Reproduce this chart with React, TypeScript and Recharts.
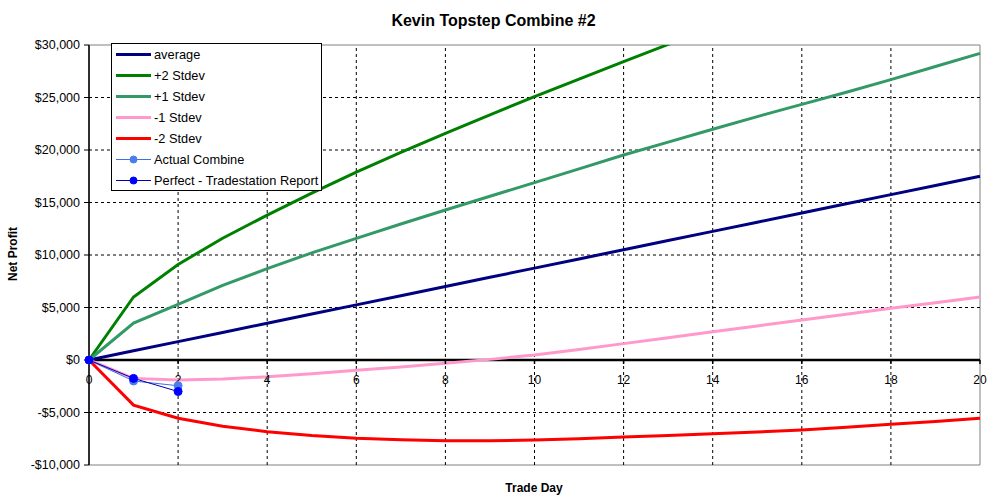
import { LineChart, Line, XAxis, YAxis, ReferenceLine, ReferenceArea, ReferenceDot } from 'recharts';

const days = [0, 1, 2, 3, 4, 5, 6, 7, 8, 9, 10, 11, 12, 13, 14, 15, 16, 17, 18, 19, 20];
const average = [0, 875, 1750, 2625, 3500, 4375, 5250, 6125, 7000, 7875, 8750, 9625, 10500, 11375, 12250, 13125, 14000, 14875, 15750, 16625, 17500];
const plus2 = [0, 6000, 9100, 11600, 13800, 15900, 17900, 19780, 21590, 23350, 25080, 26750, 28410, 30050, 31650, 33200, 34750, 36250, 37750, 39200, 40650];
const plus1 = [0, 3520, 5300, 7100, 8700, 10200, 11590, 12950, 14290, 15600, 16890, 18200, 19520, 20750, 21970, 23180, 24350, 25500, 26700, 27950, 29200];
const minus1 = [0, -1750, -1900, -1800, -1600, -1300, -980, -660, -320, 60, 480, 1010, 1560, 2120, 2680, 3240, 3800, 4360, 4920, 5460, 6000];
const minus2 = [0, -4300, -5550, -6300, -6830, -7200, -7450, -7600, -7680, -7690, -7620, -7500, -7330, -7180, -7020, -6850, -6670, -6400, -6130, -5850, -5550];
const actualCombine = [0, -2000, -2450];
const perfectReport = [0, -1750, -3000];

const xTicks = [0, 2, 4, 6, 8, 10, 12, 14, 16, 18, 20];
const yTicks = [-10000, -5000, 0, 5000, 10000, 15000, 20000, 25000, 30000];
const gridX = [2, 4, 6, 8, 10, 12, 14, 16, 18];
const gridY = [-5000, 5000, 10000, 15000, 20000, 25000];

const FONT = 'Arial, "Liberation Sans", sans-serif';

const series = [
  { key: 'average', name: 'average', color: '#000080', width: 3, dot: null },
  { key: 'plus2', name: '+2 Stdev', color: '#008000', width: 3, dot: null },
  { key: 'plus1', name: '+1 Stdev', color: '#339966', width: 3, dot: null },
  { key: 'minus1', name: '-1 Stdev', color: '#ff99cc', width: 3, dot: null },
  { key: 'minus2', name: '-2 Stdev', color: '#ff0000', width: 3, dot: null },
  { key: 'actual', name: 'Actual Combine', color: '#3f6ee8', width: 1, dot: '#4a7df0' },
  { key: 'perfect', name: 'Perfect - Tradestation Report', color: '#0000b0', width: 1, dot: '#0000ff' },
];

const data = days.map((d, i) => ({
  day: d,
  average: average[i],
  plus2: plus2[i],
  plus1: plus1[i],
  minus1: minus1[i],
  minus2: minus2[i],
  actual: actualCombine[i],
  perfect: perfectReport[i],
}));

const money = (v: number) => (v < 0 ? '-' : '') + '$' + Math.abs(v).toLocaleString('en-US');

function Legend() {
  return (
    <div
      style={{
        position: 'absolute', left: 111, top: 43, width: 211, height: 148, boxSizing: 'border-box',
        border: '1px solid #000', background: '#fff', fontFamily: FONT, fontSize: 12.8, color: '#000',
      }}
    >
      {series.map((s) => (
        <div key={s.key} style={{ height: 21, display: 'flex', alignItems: 'center' }}>
          <svg width={38} height={21} style={{ marginLeft: 4 }}>
            <line x1={0} x2={35} y1={10.5} y2={10.5} stroke={s.color} strokeWidth={s.width} />
            {s.dot && <circle cx={17.5} cy={10.5} r={3.5} fill={s.dot} stroke={s.dot} />}
          </svg>
          <span style={{ whiteSpace: 'nowrap' }}>{s.name}</span>
        </div>
      ))}
    </div>
  );
}

export default function App() {
  return (
    <div style={{ position: 'absolute', left: 0, top: 0, width: 1005, height: 504, background: '#fff' }}>
      <LineChart width={1005} height={504} data={data} margin={{ top: 45, right: 25, bottom: 39, left: 0 }}>
        {gridY.map((v) => (
          <ReferenceLine key={'gy' + v} y={v} stroke="#000" strokeDasharray="3 3" />
        ))}
        {gridX.map((v) => (
          <ReferenceLine key={'gx' + v} x={v} stroke="#000" strokeDasharray="3 3" />
        ))}
        <ReferenceArea x1={0} x2={20} y1={-10000} y2={30000} fill="none" stroke="#808080" strokeWidth={1} />
        <XAxis dataKey="day" type="number" domain={[0, 20]} ticks={xTicks} axisLine={false} tickLine={false} tick={false} height={0} />
        <YAxis
          type="number"
          domain={[-10000, 30000]}
          ticks={yTicks}
          allowDataOverflow
          width={89}
          axisLine={{ stroke: '#000', strokeWidth: 1.5 }}
          tickLine={{ stroke: '#000' }}
          tickSize={5}
          tickMargin={4}
          tick={{ fill: '#000', fontSize: 12.5, fontFamily: FONT }}
          tickFormatter={money}
        />
        <ReferenceLine y={0} stroke="#000" strokeWidth={2.5} />
        {xTicks.map((t) => (
          <ReferenceDot
            key={t}
            x={t}
            y={0}
            r={0}
            shape={(p: any) => (
              <g>
                <line x1={p.cx} x2={p.cx} y1={p.cy} y2={p.cy + 4} stroke="#000" strokeWidth={1.5} />
                <text x={p.cx} y={p.cy + 24} textAnchor="middle" fontSize={12} fontFamily={FONT} fill="#000">
                  {t}
                </text>
              </g>
            )}
          />
        ))}
        {series.map((s) => (
          <Line
            key={s.key}
            type="linear"
            dataKey={s.key}
            name={s.name}
            stroke={s.color}
            strokeWidth={s.width}
            dot={s.dot ? { r: 4, fill: s.dot, stroke: s.dot, strokeWidth: 1 } : false}
            activeDot={false}
            isAnimationActive={false}
          />
        ))}
      </LineChart>
      <div
        style={{
          position: 'absolute', left: 0, width: 987, top: 11, textAlign: 'center',
          fontFamily: FONT, fontWeight: 'bold', fontSize: 16, lineHeight: '20px',
        }}
      >
        Kevin Topstep Combine #2
      </div>
      <div
        style={{
          position: 'absolute', left: 434, width: 200, top: 480, textAlign: 'center',
          fontFamily: FONT, fontWeight: 'bold', fontSize: 12, lineHeight: '16px',
        }}
      >
        Trade Day
      </div>
      <div
        style={{
          position: 'absolute', left: 13, top: 254, transform: 'translate(-50%, -50%) rotate(-90deg)',
          fontFamily: FONT, fontWeight: 'bold', fontSize: 12, lineHeight: '16px', whiteSpace: 'nowrap',
        }}
      >
        Net Profit
      </div>
      <Legend />
    </div>
  );
}
